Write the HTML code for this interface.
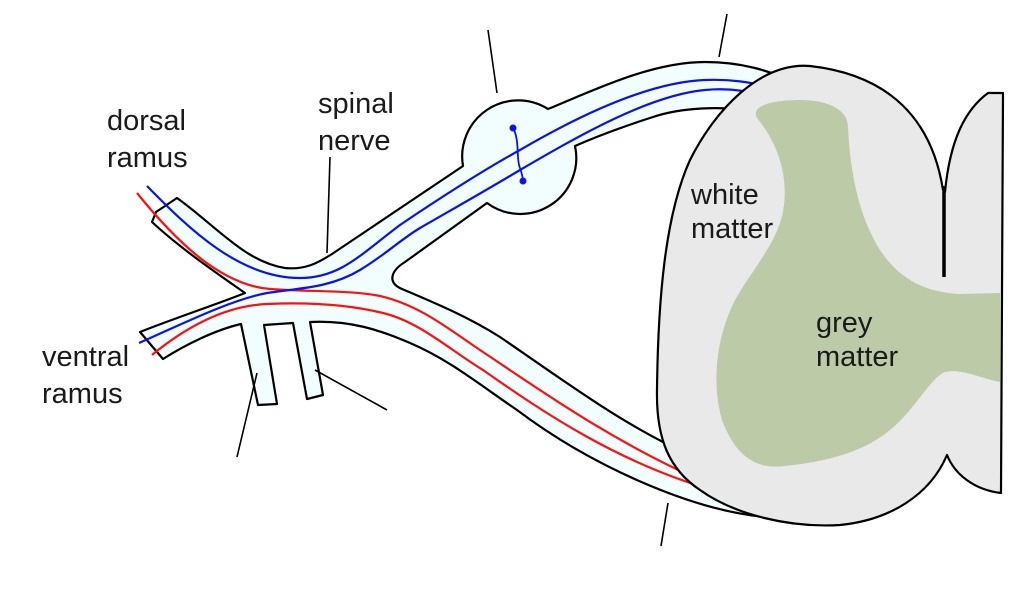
<!DOCTYPE html>
<html>
<head>
<meta charset="utf-8">
<style>
  html,body{margin:0;padding:0;background:#fff;}
  svg{display:block;}
  text{font-family:"Liberation Sans",Arial,sans-serif;font-size:29px;fill:#1a1a1a;}
</style>
</head>
<body>
<svg width="1024" height="598" viewBox="0 0 1024 598" xmlns="http://www.w3.org/2000/svg">
  <rect width="1024" height="598" fill="#fff"/>

  <!-- nerve outline -->
  <path d="M177,198
           C 215,225 245,262 285,268
           C 305,270 318,263 332,254
           L 463,166
           A 56 56 0 0 1 548,109
           C 590,92 650,62 705,62
           C 740,62 770,70 800,85
           L 800,125
           L 760,112
           C 720,105 680,108 653,117
           C 625,126 600,135 575,146
           A 56 56 0 0 1 487,203
           L 405,262
           C 392,270 386,282 402,289
           C 440,305 470,318 500,337
           C 560,378 610,415 665,443
           L 720,470 L 790,505 L 765,517
           C 690,510 590,465 517,410
           C 480,385 450,360 410,343
           C 380,330 350,320 310,322
           L 323,395 L 307,399 L 293,323
           L 264,325 L 277,404 L 258,405 L 241,324
           C 215,330 185,345 163,359
           L 140,332
           C 175,318 215,305 245,293
           C 215,272 180,248 152,222
           L 156,212 Z"
        fill="#f2fdfd" stroke="#000" stroke-width="2.2" stroke-linejoin="round"/>

  <!-- red fibres -->
  <path d="M137,193 C 175,240 220,285 270,289 C 310,292 350,290 380,296 C 420,305 450,330 483,352 C 540,390 610,440 700,480"
        fill="none" stroke="#ff1010" stroke-width="2.2"/>
  <path d="M152,355 C 180,332 220,306 267,304 C 310,302 350,305 383,313 C 420,322 450,350 483,370 C 540,410 620,465 720,492"
        fill="none" stroke="#ff1010" stroke-width="2.2"/>

  <!-- blue fibres -->
  <path d="M147,186 C 190,230 240,278 300,278 C 340,278 360,255 400,225 C 440,198 480,172 520,150 C 580,115 650,82 705,80 C 730,79 750,82 775,88"
        fill="none" stroke="#0a14e6" stroke-width="2.2"/>
  <path d="M139,343 C 180,325 230,300 267,293 C 300,288 330,288 360,270 C 385,255 400,240 420,228 C 460,205 490,188 520,170 C 580,135 650,95 705,90 C 725,88 745,90 765,96"
        fill="none" stroke="#0a14e6" stroke-width="2.2"/>

  <!-- ganglion neuron -->
  <path d="M513,128 C 520,140 516,160 520,168 C 522,174 523,178 523,181" fill="none" stroke="#0a14e6" stroke-width="1.8"/>
  <circle cx="513" cy="128" r="3.5" fill="#0a14e6"/>
  <circle cx="523" cy="181" r="3.5" fill="#0a14e6"/>

  <!-- spinal cord -->
  <path d="M943,190
           C 932,120 890,75 810,66
           C 760,62 715,110 690,160
           C 665,215 658,300 657,390
           C 656,440 670,470 700,490
           C 735,515 790,528 840,525
           C 890,520 930,495 947,455
           C 955,475 975,490 1001,493
           L 1003,93 L 988,93
           C 965,110 950,140 945,192 Z"
        fill="#e9e9e9" stroke="#000" stroke-width="2.2" stroke-linejoin="round"/>
  <line x1="944" y1="186" x2="944" y2="277" stroke="#000" stroke-width="3.5"/>

  <!-- grey matter -->
  <path d="M757,118 C 750,105 775,100 800,100 C 825,100 848,108 848,127
           C 850,170 858,215 880,250 C 900,280 925,292 960,294 L 1000,293 L 1000,382
           C 980,378 960,368 945,372 C 930,378 915,410 890,430
           C 860,455 820,462 785,466 C 755,470 735,455 722,420
           C 712,385 715,340 735,300 C 755,265 780,240 784,205
           C 788,170 775,140 757,118 Z"
        fill="#bdcaa8"/>

  <!-- pointer lines -->
  <g stroke="#000" stroke-width="1.6" fill="none">
    <line x1="330" y1="157" x2="327" y2="253"/>
    <line x1="488" y1="30" x2="497" y2="93"/>
    <line x1="727" y1="14" x2="719" y2="57"/>
    <line x1="668" y1="503" x2="661" y2="546"/>
    <line x1="257" y1="373" x2="237" y2="457"/>
    <line x1="315" y1="370" x2="387" y2="410"/>
  </g>

  <!-- labels -->
  <text x="107" y="130">dorsal</text>
  <text x="107" y="167">ramus</text>
  <text x="318" y="113">spinal</text>
  <text x="318" y="150">nerve</text>
  <text x="42" y="366">ventral</text>
  <text x="42" y="403">ramus</text>
  <text x="691" y="204">white</text>
  <text x="691" y="238">matter</text>
  <text x="816" y="332">grey</text>
  <text x="816" y="366">matter</text>
</svg>
</body>
</html>
